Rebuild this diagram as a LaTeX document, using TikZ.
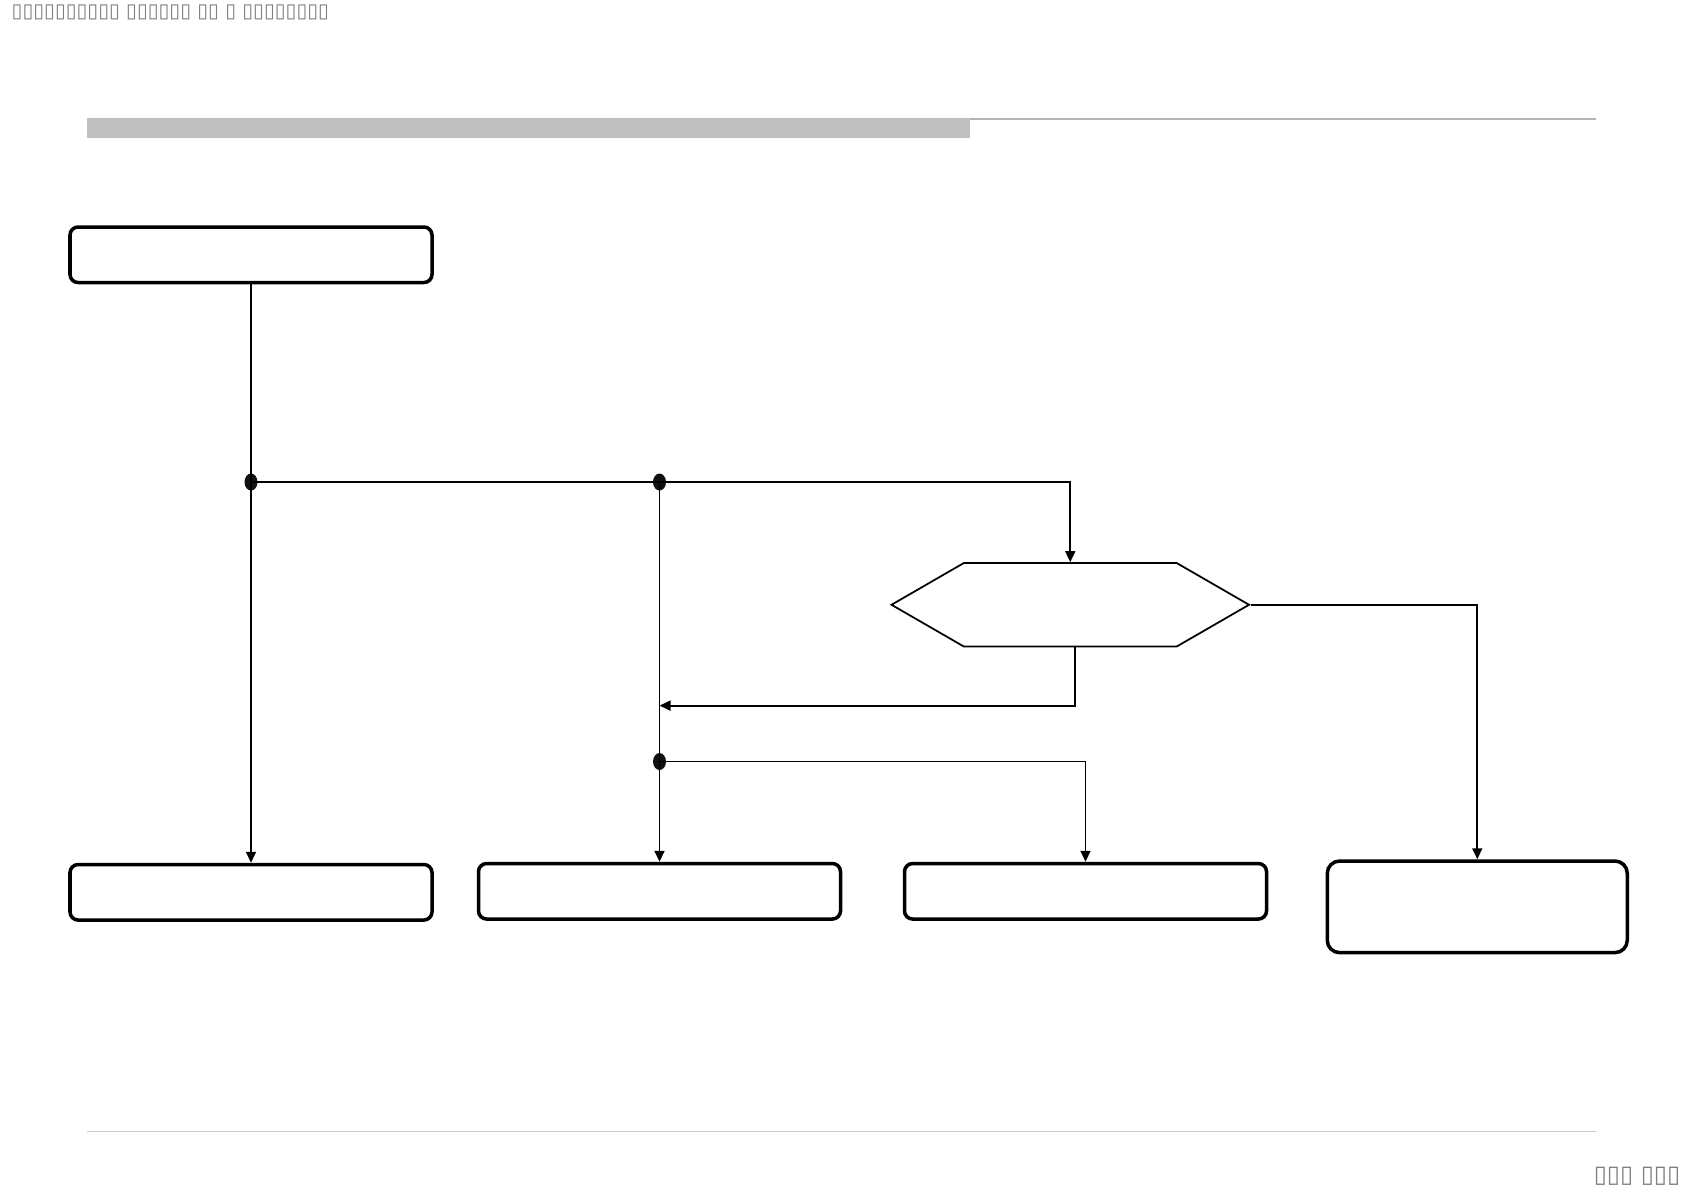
\documentclass[tikz,border=0pt]{standalone}
\usepackage{fontspec}
\usepackage{xcolor}
\usetikzlibrary{arrows.meta, positioning, shapes.geometric, shapes.symbols}
\newfontfamily\tofufont{DejaVu Sans}
\definecolor{ink}{HTML}{000000}
\definecolor{dotink}{HTML}{111111}
\definecolor{barfill}{HTML}{C0C0C0}
\definecolor{rulegray}{HTML}{B4B4B4}
\definecolor{footgray}{HTML}{CCCCCC}
\definecolor{muted}{HTML}{808080}
\tikzset{
  box/.style={
    rectangle, rounded corners=2.3pt,
    draw=ink, fill=white, line width=1pt,
    minimum width=3.62cm, minimum height=0.555cm,
    inner sep=0pt, align=center
  },
  hexbox/.style={
    signal, signal to=west and east, signal pointer angle=60,
    draw=ink, fill=white, line width=0.5pt,
    minimum width=3.575cm, minimum height=0.835cm, inner sep=0pt
  },
  junction/.style={
    ellipse, fill=dotink, draw=none, inner sep=0pt,
    minimum width=0.13cm, minimum height=0.17cm
  },
  tofu/.style={font=\tofufont\fontsize{5.6}{7}\selectfont, text=muted, inner sep=0pt},
  link/.style={line width=0.5pt, draw=ink},
  arrow/.style={link, -{Triangle[length=1.1mm,width=1mm]}},
}

\begin{document}
\begin{tikzpicture}
  \useasboundingbox (0,0) rectangle (16.84,-11.91);

  % page furniture
  \fill[barfill] (0.87,-1.18) rectangle (9.70,-1.375);
  \draw[rulegray, line width=0.3pt] (9.70,-1.19) -- (15.96,-1.19);
  \draw[footgray, line width=0.3pt] (0.87,-11.31) -- (15.96,-11.31);
  \node[tofu, anchor=west] (title) at (0.11,-0.125)
    {▯▯▯▯▯▯▯▯▯▯ ▯▯▯▯▯▯ ▯▯ ▯ ▯▯▯▯▯▯▯▯};
  \node[tofu, font=\tofufont\fontsize{6.8}{8}\selectfont, anchor=east] (pageno) at (16.81,-11.76) {▯▯▯ ▯▯▯};

  % boxes
  \node[box] (start) at (2.51,-2.5475) {};
  \node[hexbox] (check) at (10.7025,-6.0475) {};
  \node[box] (outa) at (2.51,-8.9225) {};
  \node[box] (outb) at (6.595,-8.9125) {};
  \node[box] (outc) at (10.855,-8.9125) {};
  \node[box, minimum width=3.0cm, minimum height=0.916cm, rounded corners=3.5pt] (outd) at (14.7725,-9.068) {};

  % junctions
  \node[junction] (ja) at (2.51,-4.82) {};
  \node[junction] (jb) at (6.595,-4.82) {};
  \node[junction] (jc) at (6.595,-7.615) {};
  \coordinate (back) at (6.595,-7.056);

  % connectors
  \draw[link] (start.south) -- (ja.center);
  \draw[arrow] (ja.center) -- (outa.north);
  \draw[link] (ja.center) -- (jb.center);
  \draw[arrow] (jb.center) -| (check.north);
  \draw[link] (jb.center) -- (jc.center);
  \draw[arrow] (jc.center) -- (outb.north);
  \draw[arrow] ([xshift=0.045cm]check.south) |- (back);
  \draw[arrow] (check.east) -| (outd.north);
  \draw[arrow] (jc.center) -| (outc.north);
\end{tikzpicture}
\end{document}
